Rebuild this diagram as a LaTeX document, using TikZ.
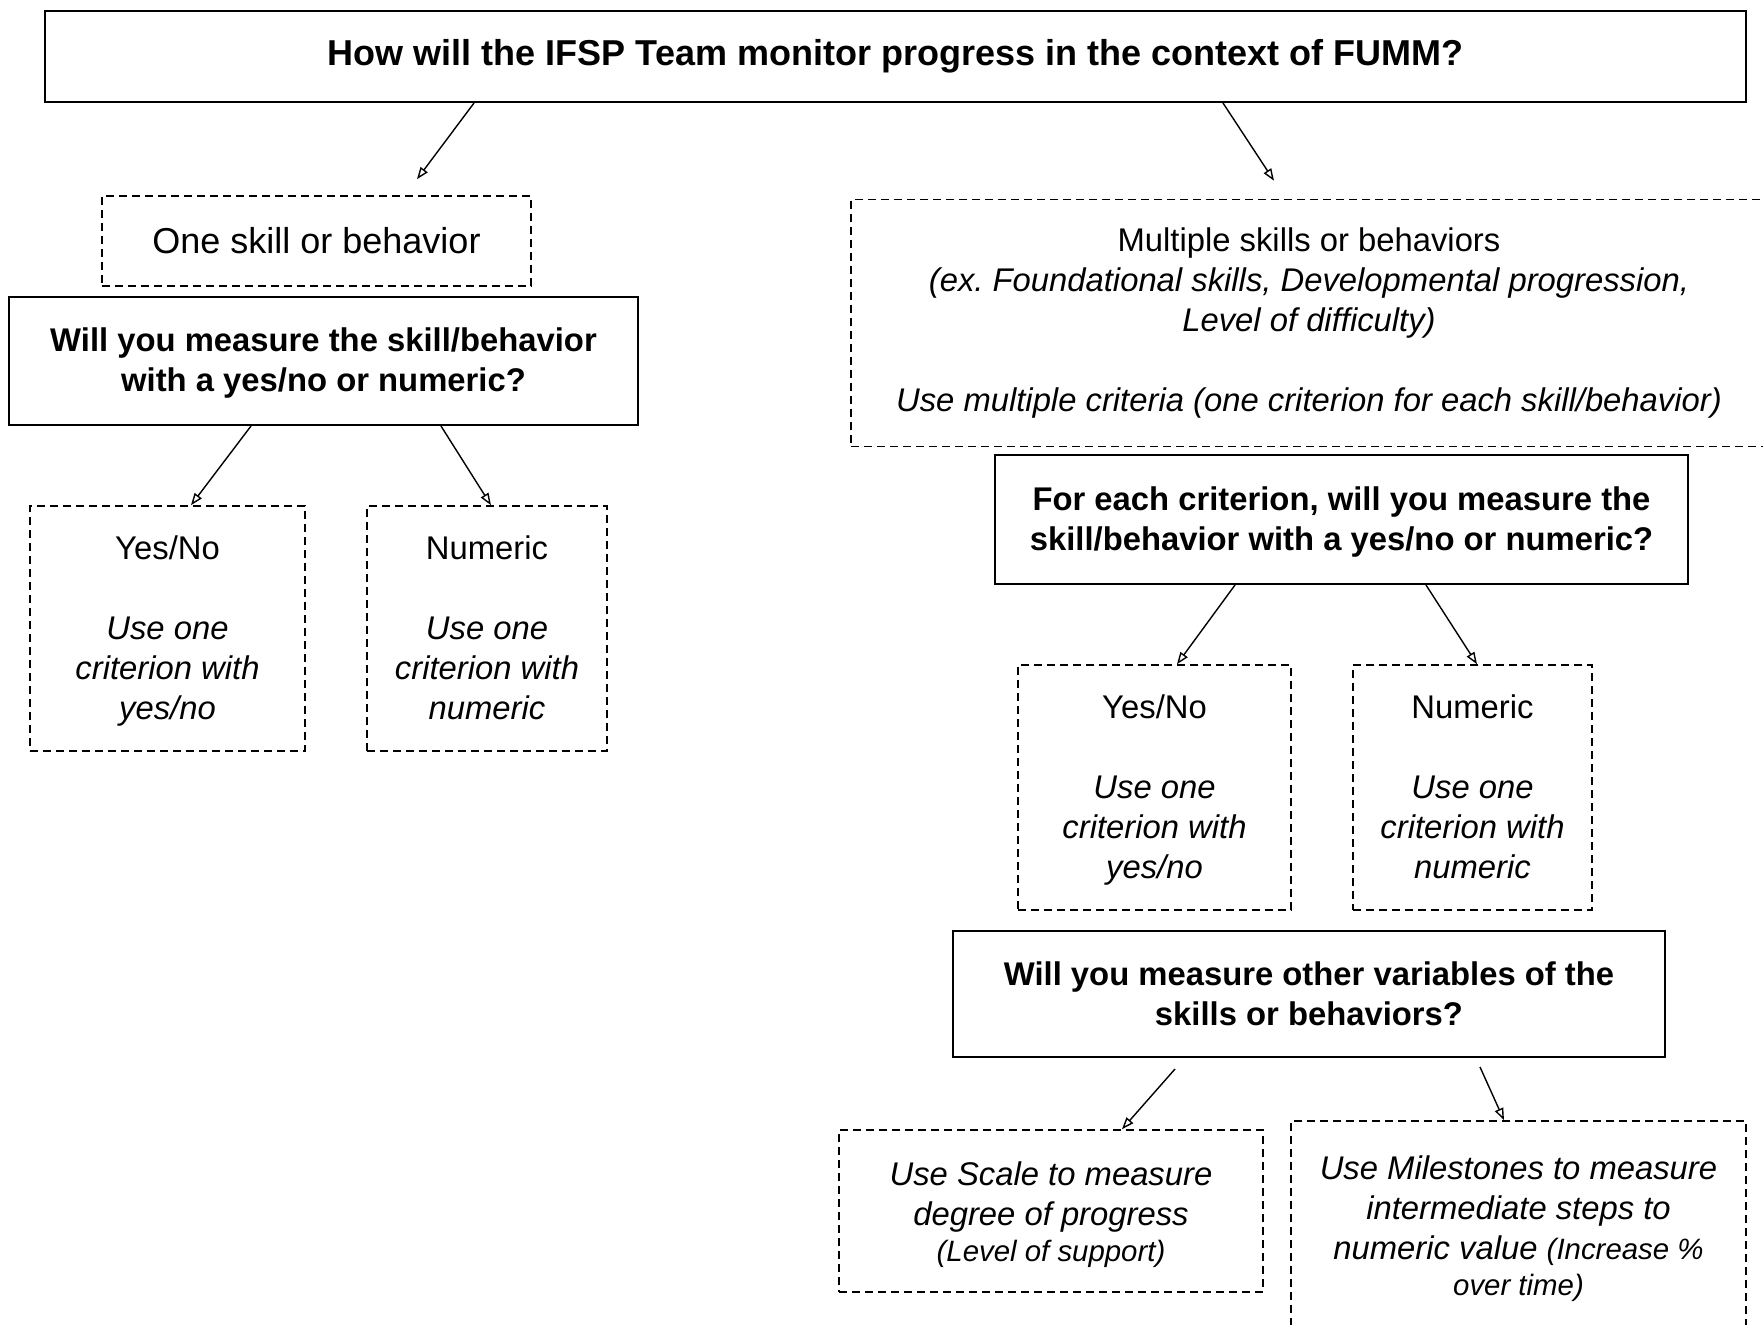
\documentclass[tikz,border=0pt]{standalone}
\usepackage{fontspec}
\setmainfont{Liberation Sans}
\usetikzlibrary{arrows.meta,calc}
\newcommand{\regfont}{\fontsize{16.4}{20}\selectfont}
\newcommand{\smallerfont}{\fontsize{14.7}{18}\selectfont}
\begin{document}
\begin{tikzpicture}[x=0.5pt,y=-0.5pt,
  solidbox/.style={draw=black,line width=1pt,align=center,inner sep=2pt,font=\regfont\bfseries},
  dashbox/.style={draw=black,line width=0.8pt,dash pattern=on 4pt off 2.5pt,align=center,inner sep=2pt,font=\regfont},
  conn/.style={draw=black,line width=0.7pt,-{Triangle[open,length=6pt,width=4.4pt]}}
]
\useasboundingbox (0,0) rectangle (1763,1324);
\clip (0,0) rectangle (1763,1324);
\fill[white] (0,0) rectangle (1763,1324);

\node[solidbox,minimum width=850.5pt,minimum height=45.5pt,font=\fontsize{18}{22}\selectfont\bfseries] (top) at (895.5,56.5)
  {How will the IFSP Team monitor progress in the context of FUMM?};

\node[dashbox,minimum width=214.5pt,minimum height=45pt,font=\fontsize{18}{22}\selectfont] (one) at (316.5,241)
  {One skill or behavior};

\node[solidbox,minimum width=314.5pt,minimum height=64pt] (q1) at (323.5,361)
  {\strut Will you measure the skill/behavior\\with a yes/no or numeric?};

\node[dashbox,minimum width=137.5pt,minimum height=122.5pt] (yn1) at (167.5,628.5)
  {\rule{0pt}{17pt}Yes/No\\[20pt]\textit{Use one}\\\textit{criterion with}\\\textit{yes/no}\strut};

\node[dashbox,minimum width=120pt,minimum height=122.5pt] (num1) at (487,628.5)
  {\rule{0pt}{17pt}Numeric\\[20pt]\textit{Use one}\\\textit{criterion with}\\\textit{numeric}\strut};

\node[dashbox,minimum width=458pt,minimum height=123.5pt] (multi) at (1309,323)
  {Multiple skills or behaviors\\\textit{(ex.\ Foundational skills, Developmental progression,}\\\textit{Level of difficulty)}\\[20pt]\textit{Use multiple criteria (one criterion for each skill/behavior)}};

\node[solidbox,minimum width=346.5pt,minimum height=64.5pt] (q2) at (1341.5,519.5)
  {\strut For each criterion, will you measure the\\skill/behavior with a yes/no or numeric?};

\node[dashbox,minimum width=136.5pt,minimum height=122.5pt] (yn2) at (1154.5,787.5)
  {\rule{0pt}{17pt}Yes/No\\[20pt]\textit{Use one}\\\textit{criterion with}\\\textit{yes/no}\strut};

\node[dashbox,minimum width=119.5pt,minimum height=122.5pt] (num2) at (1472.5,787.5)
  {\rule{0pt}{17pt}Numeric\\[20pt]\textit{Use one}\\\textit{criterion with}\\\textit{numeric}\strut};

\node[solidbox,minimum width=356pt,minimum height=63pt] (q3) at (1309,994)
  {Will you measure other variables of the\\skills or behaviors?};

\node[dashbox,minimum width=212pt,minimum height=81pt] (scale) at (1051,1211)
  {\rule{0pt}{15.5pt}\textit{Use Scale to measure}\\\textit{degree of progress}\\[-2pt]{\smallerfont\textit{(Level of support)}}};

\node[dashbox,minimum width=227.5pt,minimum height=103pt] (miles) at (1518.5,1224)
  {\rule{0pt}{16.5pt}\textit{Use Milestones to measure}\\\textit{intermediate steps to}\\\textit{numeric value} {\smallerfont\textit{(Increase \%}}\\[-2pt]{\smallerfont\textit{over time)}}};

% free ends
\coordinate (oneIn) at ($(one.north)+(100.5,-16)$);
\coordinate (multiIn) at ($(multi.north)+(-35,-18)$);
\coordinate (q3outL) at ($(q3.south)+(-134,11)$);
\coordinate (q3outR) at ($(q3.south)+(171,9)$);

\draw[conn] ($(top.south)+(-421.5,0)$) -- (oneIn);
\draw[conn] ($(top.south)+(327.5,0)$) -- (multiIn);
\draw[conn] ($(q1.south)+(-72.5,0)$) -- ($(yn1.north)+(23.5,0)$);
\draw[conn] ($(q1.south)+(117.5,0)$) -- ($(num1.north)+(4,0)$);
\draw[conn] ($(q2.south)+(-106.5,0)$) -- ($(yn2.north)+(22.5,0)$);
\draw[conn] ($(q2.south)+(84.5,0)$) -- ($(num2.north)+(4.5,0)$);
\draw[conn] (q3outL) -- ($(scale.north)+(71,0)$);
\draw[conn] (q3outR) -- ($(miles.north)+(-14.5,0)$);
\end{tikzpicture}
\end{document}
